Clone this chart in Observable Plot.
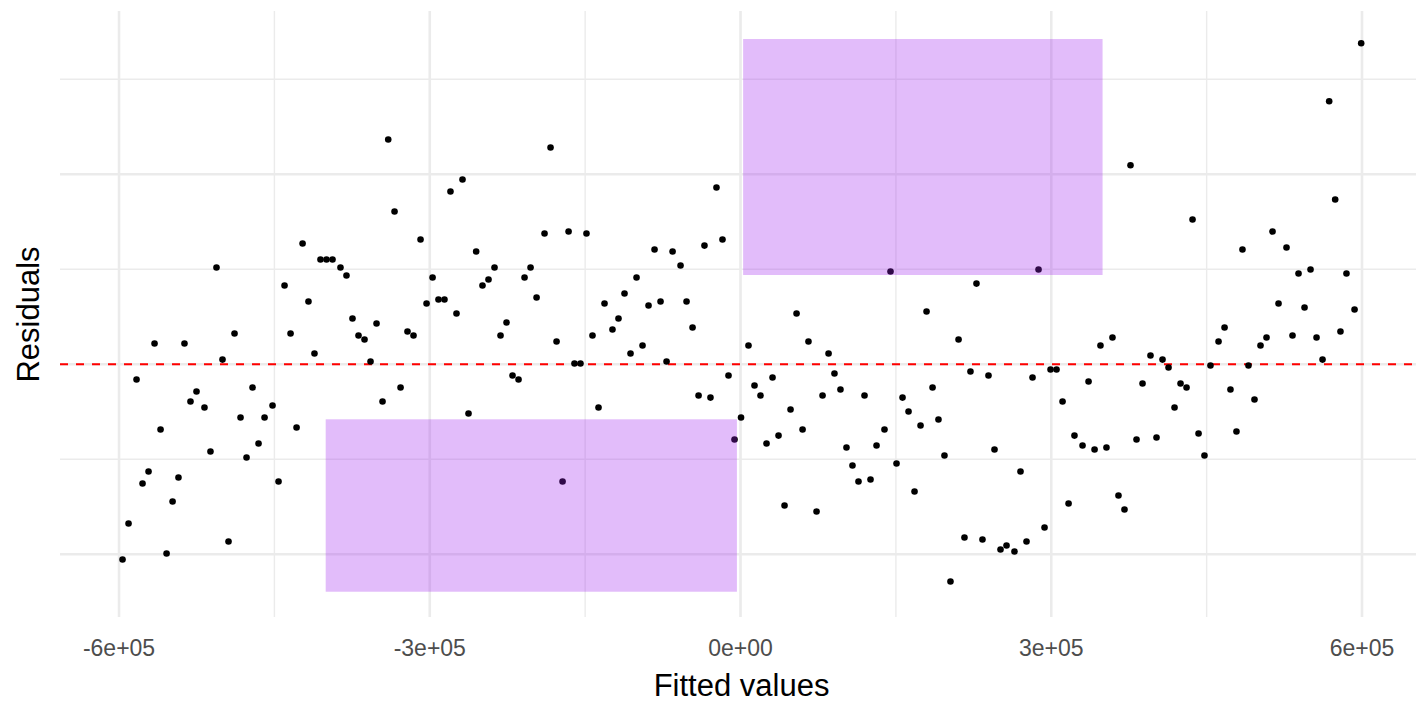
<!DOCTYPE html>
<html>
<head>
<meta charset="utf-8">
<script src="https://cdn.jsdelivr.net/npm/d3@7"></script>
<script src="https://cdn.jsdelivr.net/npm/@observablehq/plot@0.6"></script>
<style>
  html, body { margin: 0; padding: 0; background: #fff; }
  #chart svg { display: block; }
</style>
</head>
<body>
<div id="chart"></div>
<script>
// Fitted values and residuals of the model, one entry per observation
const fitted = [
  -340100, -268400, -280000, -334000, -308900, -422800, -255200, -505900, -405500, -399700,
  -393900, -386200, -380400, -440200, -297300, -417100, -303100, -291600, -285800, -274200,
  -374600, -351400, -368800, -363000, -321500, -315700, -565700, -536800, -488500, -434400,
  -411300, -500100, -357200, -583100, -471100, -328200, -525200, -531000, -345600, -517500,
  -451800, -482700, -459500, -262600, -428600, -559900, -511700, -465300, -476900, -571500,
  -577300, -542600, -446000, -548300, -590800, -494300, -554100, -596600, -183400, -23200,
  -189200, -166000, -148700, -83000, -65600, -34800, -17400, -237500, -202700, -57900,
  -208500, -243300, -249100, -196900, -100400, -131300, -112000, -88800, -77200, -52100,
  -117800, -225900, 144800, 54100, 179600, -231700, -177600, -142900, -123600, -46300,
  -106200, -94600, -160300, -154500, -71400, -220100, -214300, -137100, -40500, -29000,
  -11600, 7700, 65600, 85000, 13500, 19300, 30900, 90700, 96500, 79200,
  119700, 500, -5800, -171800, 48300, 59900, 25100, 36700, 102300, 108100,
  113900, 125500, 131300, 139000, 150600, 156400, 162200, 173800, 185400, 191100,
  196900, 168000, 42500, 73400, 202700, 599200, 568300, 376500, 574100, 436400,
  513600, 484600, 527100, 538700, 550300, 585000, 287700, 227800, 519400, 544500,
  592800, 210500, 222000, 239400, 281900, 299300, 305100, 310900, 336000, 347500,
  359100, 322400, 330200, 341800, 353300, 316700, 364900, 370700, 293500, 276100,
  251000, 256800, 264500, 233600, 216200, 245200, 270300, 382300, 388100, 395800,
  407400, 413200, 401600, 419000, 424800, 430600, 442200, 447900, 453700, 461500,
  467300, 473000, 478800, 490400, 496200, 502000, 507800, 532900, 556100, 561900,
  579200
];
const residuals = [
  236500, 194400, 181800, 160700, 131300, 127100, 118600, 101800, 110200, 110200,
  110200, 101800, 93400, 82800, 91300, 66000, 63900, 68100, 68100, 53400,
  48100, 42800, 30200, 26000, 34400, 30200, 21800, 21800, 32300, 32300,
  11300, 4900, 2800, -16100, -24500, -24500, -28700, -39300, -39300, -45600,
  -43500, -56100, -56100, -51900, -66600, -68700, -91900, -83500, -98200, -112900,
  -125600, -119300, -123500, -144500, -167700, -186600, -199300, -205600, 228100, 186000,
  137600, 139700, 137600, 120700, 118600, 124900, 131300, 101800, 101800, 103900,
  91300, 89200, 82800, 70200, 91300, 63900, 74400, 61800, 66000, 66000,
  48100, 43900, 97600, 53400, 55500, 30200, 23900, 30200, 36500, 38600,
  11300, 19700, 700, 700, 2800, -11900, -16100, -45600, -32900, -35100,
  -11900, 19700, 23900, 11300, -22400, -32900, -14000, -9800, -26600, -32900,
  -32900, -56100, -79300, -123500, -47700, -68700, -83500, -75100, -87700, -106600,
  -123500, -121400, -85600, -68700, -104500, -35100, -49800, -64500, -24500, -58200,
  -96100, -134000, -148700, -155000, -228700, 337900, 276800, 209500, 173400, 152300,
  139700, 120700, 122800, 95500, 99700, 95500, 99700, 84900, 63900, 59700,
  57600, 26000, -7700, -11900, -14000, -5600, -5600, -39300, -18200, 19700,
  28100, -75100, -85600, -89800, -87700, -146600, -138200, -152900, -171900, -186600,
  -195000, -190800, -197200, -184500, -182400, -89800, -112900, -79300, -20300, 9200,
  4900, -3500, -77200, -45600, -20300, -24500, -72900, -96100, -1400, 23900,
  38600, -26600, -70800, -1400, -37200, 19700, 28100, 30200, 28100, 4900,
  34400
];

// Axis ticks and grid positions
const xTicks = [-600000, -300000, 0, 300000, 600000];
const xTickLabels = ["-6e+05", "-3e+05", "0e+00", "3e+05", "6e+05"];
const xMinorGrid = [-450000, -150000, 150000, 450000];
const yMajorGrid = [-200000, 0, 200000];
const yMinorGrid = [-100000, 100000, 300000];

// Highlighted regions (fitted range × residual range)
const regionX1 = [3000, -400000];
const regionX2 = [350000, -3000];
const regionY1 = [93400, -240000];
const regionY2 = [341800, -58500];

const points = fitted.map((f, i) => ({fitted: f, residual: residuals[i]}));
const regions = regionX1.map((x1, i) => ({x1, x2: regionX2[i], y1: regionY1[i], y2: regionY2[i]}));

const chart = Plot.plot({
  width: 1416,
  height: 702,
  marginTop: 11,
  marginBottom: 85,
  marginLeft: 60,
  marginRight: 0,
  style: {fontFamily: "'Liberation Sans', Arial, sans-serif", background: "#ffffff"},
  x: {domain: [-656500, 652600]},
  y: {domain: [-266600, 371300], axis: null},
  marks: [
    Plot.ruleX(xMinorGrid, {stroke: "#ebebeb", strokeWidth: 1.4}),
    Plot.ruleY(yMinorGrid, {stroke: "#ebebeb", strokeWidth: 1.4}),
    Plot.ruleX(xTicks, {stroke: "#ebebeb", strokeWidth: 2.6}),
    Plot.ruleY(yMajorGrid, {stroke: "#ebebeb", strokeWidth: 2.6}),
    Plot.ruleY([0], {stroke: "#ff0000", strokeWidth: 2, strokeDasharray: "8,8"}),
    Plot.dot(points, {x: "fitted", y: "residual", r: 3.3, fill: "#000000"}),
    Plot.rect(regions, {x1: "x1", x2: "x2", y1: "y1", y2: "y2", fill: "#a020f0", fillOpacity: 0.3}),
    Plot.axisX(xTicks, {
      tickSize: 0,
      tickPadding: 22,
      fontSize: 23,
      fill: "#4d4d4d",
      tickFormat: d => xTickLabels[xTicks.indexOf(d)],
      label: null
    }),
    Plot.text(["Fitted values"], {
      text: d => d, frameAnchor: "bottom", lineAnchor: "bottom",
      dy: 78, dx: 3, fontSize: 31, fill: "#000000"
    }),
    Plot.text(["Residuals"], {
      text: d => d, frameAnchor: "left", textAnchor: "middle", lineAnchor: "bottom",
      rotate: -90, dx: -22, fontSize: 31, fill: "#000000"
    })
  ]
});

document.getElementById("chart").appendChild(chart);
</script>
</body>
</html>
